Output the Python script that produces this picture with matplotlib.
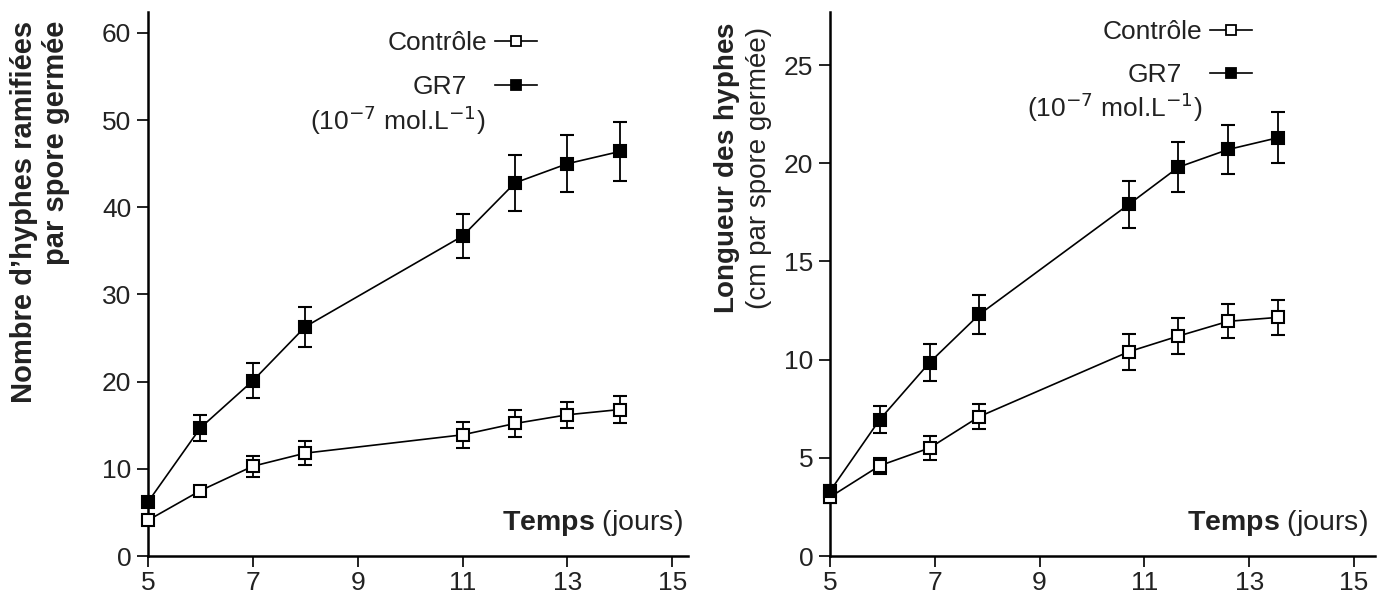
import matplotlib
matplotlib.use("Agg")
import matplotlib.pyplot as plt
from matplotlib.lines import Line2D

plt.rcParams['font.family'] = ['Liberation Sans', 'DejaVu Sans']
plt.rcParams['mathtext.fontset'] = 'custom'
plt.rcParams['mathtext.rm'] = 'Liberation Sans'
plt.rcParams['mathtext.bf'] = 'Liberation Sans:bold'

# ---- data: left panel (number of branched hyphae) ----
days_left = [5, 6, 7, 8, 11, 12, 13, 14]
ctrl_left = [4.1, 7.5, 10.3, 11.8, 13.9, 15.2, 16.2, 16.8]
ctrl_left_err = [0.5, 0.5, 1.2, 1.4, 1.5, 1.5, 1.5, 1.5]
gr7_left = [6.2, 14.7, 20.1, 26.3, 36.7, 42.8, 45.0, 46.4]
gr7_left_err = [0.5, 1.5, 2.0, 2.3, 2.5, 3.2, 3.3, 3.4]

# ---- data: right panel (hyphal length) ----
days_right = [5, 5.95, 6.9, 7.85, 10.7, 11.65, 12.6, 13.55]
ctrl_right = [3.0, 4.6, 5.5, 7.1, 10.4, 11.2, 11.95, 12.15]
ctrl_right_err = [0.3, 0.4, 0.63, 0.64, 0.92, 0.9, 0.87, 0.88]
gr7_right = [3.3, 6.95, 9.85, 12.3, 17.9, 19.8, 20.7, 21.3]
gr7_right_err = [0.3, 0.67, 0.95, 1.0, 1.2, 1.26, 1.26, 1.29]

series_labels = ['Contrôle', 'GR7']
xticks = [5, 7, 9, 11, 13, 15]
yticks_left = [0, 10, 20, 30, 40, 50, 60]
yticks_right = [0, 5, 10, 15, 20, 25]

W, H = 1379, 594
fig = plt.figure(figsize=(W / 100, H / 100), dpi=100)

ax1 = fig.add_axes([148 / W, (H - 556) / H, (688 - 148) / W, (556 - 12) / H])
ax2 = fig.add_axes([830 / W, (H - 556) / H, (1375 - 830) / W, (556 - 12) / H])

TICK_FS = 19
LEG_FS = 19
TXT = '#222222'


def style_axis(ax, xlim, ylim, yticks):
    ax.set_xlim(*xlim)
    ax.set_ylim(*ylim)
    ax.set_xticks(xticks)
    ax.set_yticks(yticks)
    for s in ['top', 'right']:
        ax.spines[s].set_visible(False)
    for s in ['left', 'bottom']:
        ax.spines[s].set_linewidth(1.8)
    ax.tick_params(direction='out', length=8, width=1.4, labelsize=TICK_FS,
                   colors=TXT, pad=4)
    ax.tick_params(axis='x', pad=2.5)


def plot_panel(ax, x, c, ce, g, ge):
    common = dict(color='black', lw=1.2, ecolor='black', elinewidth=1.3,
                  capsize=5, capthick=1.3, marker='s', markersize=9,
                  markeredgewidth=1.5, markeredgecolor='black', zorder=3)
    for y, e, fc in ((c, ce, 'white'), (g, ge, 'black')):
        cont = ax.errorbar(x, y, yerr=e, markerfacecolor=fc, **common)
        for art in cont.get_children():
            art.set_clip_on(False)


plot_panel(ax1, days_left, ctrl_left, ctrl_left_err, gr7_left, gr7_left_err)
plot_panel(ax2, days_right, ctrl_right, ctrl_right_err, gr7_right, gr7_right_err)

style_axis(ax1, (5, 15.3), (0, 62.4), yticks_left)
style_axis(ax2, (5, 15.4), (0, 27.7), yticks_right)


def add_legend(ax, xa, y_ctrl, y_gr7, xp, yp):
    h_ctrl = Line2D([], [], color='black', lw=1.2, marker='s', markersize=6.5,
                    markerfacecolor='white', markeredgecolor='black', markeredgewidth=1.3)
    h_gr7 = Line2D([], [], color='black', lw=1.2, marker='s', markersize=6.5,
                   markerfacecolor='black', markeredgecolor='black', markeredgewidth=1.3)
    kw = dict(frameon=False, markerfirst=False, loc='center right', borderpad=0,
              borderaxespad=0, handlelength=1.6, fontsize=LEG_FS)
    l1 = ax.legend([h_ctrl], [series_labels[0]], bbox_to_anchor=(xa, y_ctrl),
                   handletextpad=0.3, labelcolor=TXT, **kw)
    ax.add_artist(l1)
    ax.legend([h_gr7], [series_labels[1]], bbox_to_anchor=(xa, y_gr7),
              handletextpad=1.05, labelcolor=TXT, **kw)
    ax.text(xp, yp, '(10$^{\\mathsf{-7}}$ mol.L$^{\\mathsf{-1}}$)', transform=ax.transAxes,
            ha='right', va='center', fontsize=LEG_FS, color=TXT)


add_legend(ax1, (537 - 148) / 540, (556 - 43) / 544, (556 - 87) / 544,
           (486 - 148) / 540, (556 - 120) / 544)
add_legend(ax2, (1252 - 830) / 545, (556 - 32) / 544, (556 - 75) / 544,
           (1203 - 830) / 545, (556 - 107) / 544)

for ax, xr in ((ax1, (683 - 148) / 540), (ax2, (1368 - 830) / 545)):
    ax.text(xr, (556 - 523) / 544, r'$\mathbf{Temps}$ (jours)', transform=ax.transAxes,
            ha='right', va='center', fontsize=20.5, color=TXT)

fig.text(40 / W, (H - 21) / H, 'Nombre d’hyphes ramifiées\npar spore germée',
         rotation=90, ha='center', va='top', multialignment='right',
         fontsize=21, fontweight='bold', color=TXT)
fig.text(742 / W, (H - 168) / H,
         r'$\mathbf{Longueur\ des\ hyphes}$' + '\n(cm par spore germée)',
         rotation=90, ha='center', va='center', multialignment='center',
         fontsize=20, color=TXT)

fig.savefig('out.png', dpi=100)
